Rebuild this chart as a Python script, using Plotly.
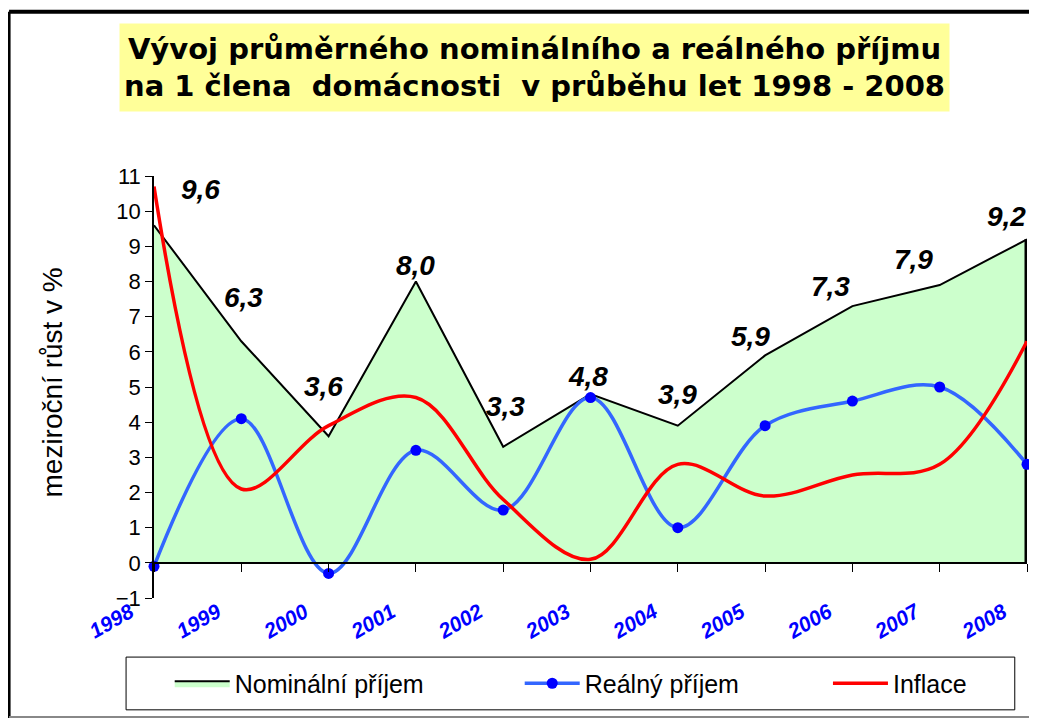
import plotly.graph_objects as go

# ── Data ─────────────────────────────────────────────────────────
years = [1998, 1999, 2000, 2001, 2002, 2003, 2004, 2005, 2006, 2007, 2008]
nominal = [9.6, 6.3, 3.6, 8.0, 3.3, 4.8, 3.9, 5.9, 7.3, 7.9, 9.2]
real = [-0.1, 4.1, -0.3, 3.2, 1.5, 4.7, 1.0, 3.9, 4.6, 5.0, 2.8]
inflation = [10.7, 2.1, 3.9, 4.7, 1.8, 0.1, 2.8, 1.9, 2.5, 2.8, 6.3]

y_ticks = list(range(-1, 12))

# label offsets (px) for the nominal value labels
label_dx = [46, 2, -5, 0, 2, -3, 0, -15, -22, -26, -21]
label_dy = [36, 44, 50, 16, 40, 18, 31, 19, 20, 26, 23]

FONT = "Liberation Sans, Arial, sans-serif"

fig = go.Figure()

# Nominal income – green area with black outline
fig.add_trace(go.Scatter(
    x=years, y=nominal,
    mode="lines", fill="tozeroy",
    fillcolor="#CCFFCC", line=dict(color="black", width=2),
    name="Nominální příjem", legend="legend",
))
# thick right edge of the area
fig.add_trace(go.Scatter(
    x=[years[-1], years[-1]], y=[0, nominal[-1]],
    mode="lines", line=dict(color="black", width=5),
    showlegend=False, hoverinfo="skip",
))

# Real income – smoothed blue line with markers
fig.add_trace(go.Scatter(
    x=years, y=real,
    mode="lines+markers",
    line=dict(color="#3366FF", width=3.5, shape="spline", smoothing=1.0),
    marker=dict(color="#0000FF", size=11),
    cliponaxis=False,
    name="Reálný příjem", legend="legend",
))

# Inflation – smoothed red line
fig.add_trace(go.Scatter(
    x=years, y=inflation,
    mode="lines",
    line=dict(color="#FF0000", width=3.5, shape="spline", smoothing=1.0),
    name="Inflace", legend="legend2",
))

# value labels of nominal income
for yr, v, dx, dy in zip(years, nominal, label_dx, label_dy):
    fig.add_annotation(
        x=yr, y=v, text=f"{v:.1f}".replace(".", ","),
        showarrow=False, xshift=dx, yshift=dy,
        font=dict(family=FONT, size=28, color="black",
                  weight="bold", style="italic"),
    )

# title in a yellow box
fig.add_annotation(
    xref="paper", yref="paper", x=0.436, y=1.257,
    xanchor="center", yanchor="middle",
    text="Vývoj průměrného nominálního a reálného příjmu<br>"
         "na 1 člena  domácnosti  v průběhu let 1998 - 2008",
    showarrow=False, bgcolor="#FFFF99", width=827, height=85,
    font=dict(family="DejaVu Sans", size=29, color="black", weight="bold"),
)

# y-axis title
fig.add_annotation(
    xref="paper", yref="paper", x=-0.116, y=0.51,
    xanchor="center", yanchor="middle",
    text="meziroční růst v %", textangle=-90, showarrow=False,
    font=dict(family=FONT, size=28, color="black"),
)

# outer frame
fig.add_shape(type="line", xref="paper", yref="paper",
              x0=-0.166, x1=1.05, y0=1.389, y1=1.389,
              line=dict(color="black", width=4))
fig.add_shape(type="line", xref="paper", yref="paper",
              x0=-0.166, x1=-0.166, y0=-0.30, y1=1.389,
              line=dict(color="black", width=3))
fig.add_shape(type="line", xref="paper", yref="paper",
              x0=-0.166, x1=1.05, y0=-0.282, y1=-0.282,
              line=dict(color="#888888", width=2))
# legend frame
fig.add_shape(type="rect", xref="paper", yref="paper",
              x0=-0.032, x1=0.986, y0=-0.265, y1=-0.140,
              line=dict(color="black", width=1), fillcolor="white",
              layer="below")

legend_style = dict(
    orientation="h", yanchor="middle", y=-0.2026, xanchor="left",
    borderwidth=0, bgcolor="rgba(0,0,0,0)",
    font=dict(family=FONT, size=25), itemwidth=55, traceorder="normal",
)

fig.update_layout(
    width=1021, height=710,
    margin=dict(l=146, r=2, t=168, b=120),
    paper_bgcolor="white", plot_bgcolor="rgba(0,0,0,0)",
    font=dict(family=FONT, color="black"),
    showlegend=True,
    legend=dict(legend_style, x=0.018, entrywidth=280),
    legend2=dict(legend_style, x=0.772),
    xaxis=dict(
        range=[years[0], years[-1]], tickvals=years,
        ticktext=[str(y) for y in years], tickangle=-30,
        anchor="free", position=1 / 12, automargin=False,
        showline=True, linecolor="black", linewidth=2,
        ticks="outside", ticklen=8, tickcolor="black", tickwidth=1,
        ticklabelstandoff=20, ticklabelshift=-24,
        showgrid=False, zeroline=False,
        tickfont=dict(family=FONT, size=21, color="#0000FF",
                      weight="bold", style="italic"),
    ),
    yaxis=dict(
        range=[-1, 11], tickvals=y_ticks, showgrid=False, zeroline=False,
        showline=True, linecolor="black", linewidth=1.5,
        ticks="outside", ticklen=7, tickcolor="black", automargin=False,
        tickfont=dict(family=FONT, size=22, color="black"),
    ),
)

fig.write_html("out.html")
